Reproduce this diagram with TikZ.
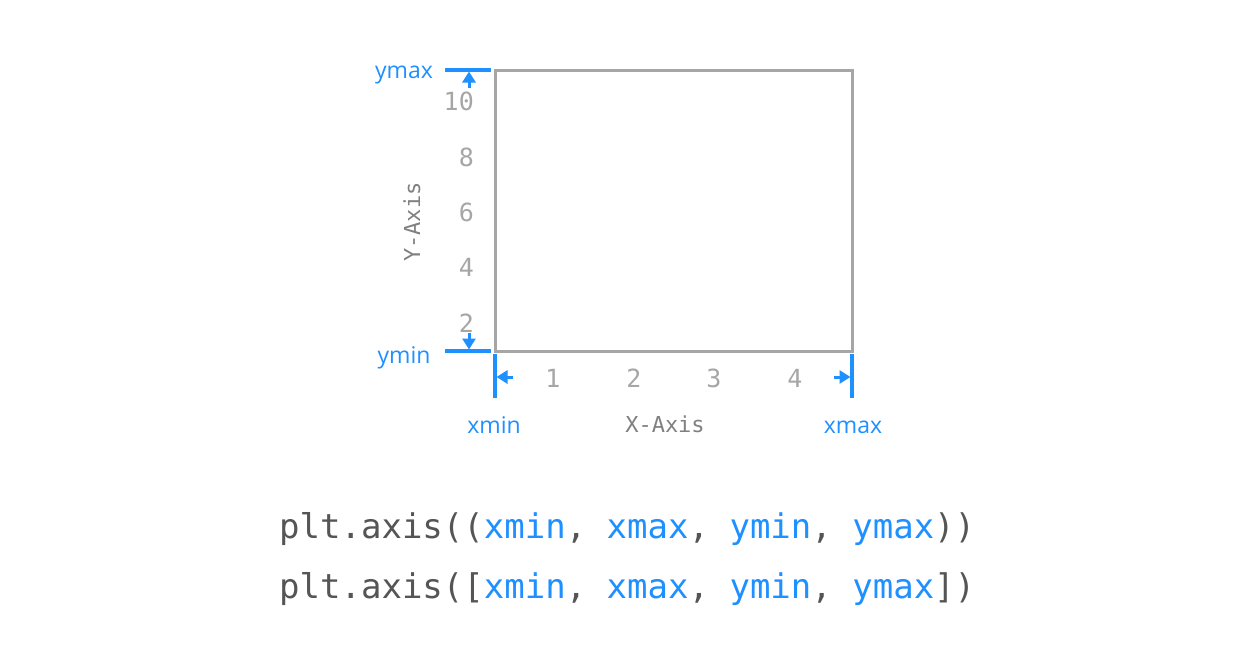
\documentclass[tikz,border=0pt]{standalone}
\usepackage{fontspec}
\usepackage{xcolor}
\usetikzlibrary{arrows.meta,positioning}
\newfontfamily\codefont{DejaVu Sans Mono}
\newfontfamily\labelfont{Open Sans}
\definecolor{limblue}{HTML}{1E90FF}
\definecolor{framegray}{HTML}{A6A6A6}
\definecolor{axisgray}{HTML}{808080}
\definecolor{codegray}{HTML}{555555}
\newcommand{\hl}[1]{\textcolor{limblue}{#1}}

\begin{document}
\begin{tikzpicture}[x=1pt,y=-1pt,
  limit/.style={draw=limblue,line width=3.2pt},
  limarrow/.style={draw=limblue,line width=3pt,-{Triangle[length=11pt,width=13pt]}},
  limlabel/.style={text=limblue,font=\labelfont\fontsize{23}{27}\selectfont,inner sep=0pt,anchor=base},
  tick/.style={text=framegray,font=\codefont\fontsize{25}{30}\selectfont,inner sep=0pt},
  axislabel/.style={text=axisgray,font=\codefont\fontsize{22}{26}\selectfont,inner sep=0pt},
  codeline/.style={text=codegray,font=\codefont\fontsize{34}{40}\selectfont,inner sep=0pt,anchor=base west}]
  \useasboundingbox[fill=white] (0,0) rectangle (1256,667);
  % plotting area
  \coordinate (P) at (495,70);
  \coordinate (Q) at (852,351);
  \draw[framegray,line width=3pt] (P) rectangle (Q);
  % limit markers
  \coordinate (ymaxL) at (445,70);  \coordinate (ymaxR) at (491,70);
  \coordinate (yminL) at (445,351); \coordinate (yminR) at (491,351);
  \coordinate (xminT) at (495,354); \coordinate (xminB) at (495,398);
  \coordinate (xmaxT) at (852,354); \coordinate (xmaxB) at (852,398);
  \draw[limit] (ymaxL)--(ymaxR) (yminL)--(yminR) (xminT)--(xminB) (xmaxT)--(xmaxB);
  \coordinate (ymaxA) at (469,88);  \coordinate (yminA) at (469,333);
  \coordinate (xminA) at (513,377); \coordinate (xmaxA) at (834,377);
  \draw[limarrow] (ymaxA)--(469,71.5);
  \draw[limarrow] (yminA)--(469,349.5);
  \draw[limarrow] (xminA)--(496.5,377);
  \draw[limarrow] (xmaxA)--(850.5,377);
  \node[limlabel] (ymax) at (404,78) {ymax};
  \node[limlabel] (ymin) at (404,363) {ymin};
  \node[limlabel] (xmin) at (494,433) {xmin};
  \node[limlabel] (xmax) at (853,433) {xmax};
  % tick labels
  \foreach \v/\yy in {10/101,8/157,6/212,4/267,2/323}
    \node[tick,anchor=east] (ty\v) at (474,\yy) {\v};
  \foreach \v/\xx in {1/553,2/634,3/714,4/795}
    \node[tick] (tx\v) at (\xx,378) {\v};
  \node[axislabel] (xlab) at (665,424) {X-Axis};
  \node[axislabel,rotate=90] (ylab) at (412,222) {Y-Axis};
  % code
  \node[codeline] (code1) at (279,538) {plt.axis((\hl{xmin}, \hl{xmax}, \hl{ymin}, \hl{ymax}))};
  \node[codeline] (code2) at (279,598) {plt.axis([\hl{xmin}, \hl{xmax}, \hl{ymin}, \hl{ymax}])};
\end{tikzpicture}
\end{document}
